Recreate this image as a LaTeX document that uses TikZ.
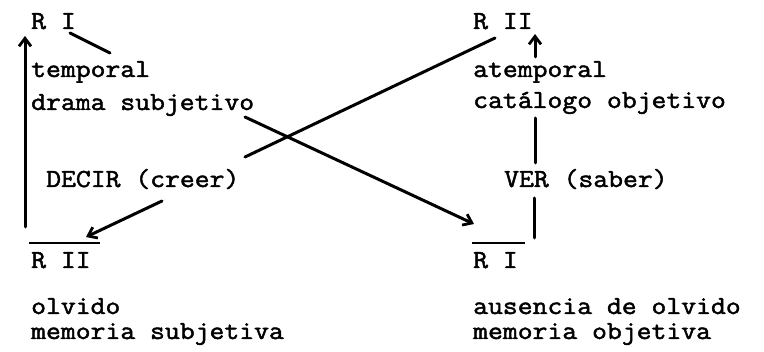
\documentclass[tikz,border=0pt]{standalone}
\usepackage{fontspec}
\setmonofont{Latin Modern Mono}[FakeStretch=1.11,FakeBold=1.8]
\usetikzlibrary{arrows.meta}
\begin{document}
\begin{tikzpicture}[x=1pt,y=-1pt,
  txt/.style={anchor=base west,inner sep=0pt,font=\ttfamily\fontsize{26}{30}\selectfont},
  conn/.style={line width=3pt,line cap=round},
  arr/.style={conn,-{Straight Barb[length=8pt,width=12pt,line width=2.8pt]}},
  bar/.style={line width=1.7pt}]
\useasboundingbox (0,0) rectangle (764,352);
% left column
\node[txt] (rIa)   at (31,29)  {R I};
\node[txt] (tmp)   at (31,77)  {temporal};
\node[txt] (drama) at (31,110) {drama subjetivo};
\node[txt] (decir) at (46,187) {DECIR (creer)};
\node[txt] (rIIb)  at (31,268) {R II};
\node[txt] (olv)   at (31,314) {olvido};
\node[txt] (memS)  at (31,339) {memoria subjetiva};
% right column
\node[txt] (rIIa)  at (473,29)  {R II};
\node[txt] (atmp)  at (473,77)  {atemporal};
\node[txt] (cat)   at (473,108) {catálogo objetivo};
\node[txt] (ver)   at (504,187) {VER (saber)};
\node[txt] (rIb)   at (473,268) {R I};
\node[txt] (aus)   at (473,314) {ausencia de olvido};
\node[txt] (memO)  at (473,339) {memoria objetiva};
% connector end points
\coordinate (l1) at (70,33);   \coordinate (l2) at (110,53);
\coordinate (la) at (25,227);  \coordinate (lb) at (25,36);
\coordinate (d1) at (162,201); \coordinate (d2) at (86,237);
\coordinate (x1) at (245,117); \coordinate (x2) at (474,224);
\coordinate (y1) at (245,157); \coordinate (y2) at (495,38);
\coordinate (u1) at (535,57);  \coordinate (u2) at (535,34);
\coordinate (v1) at (535,118); \coordinate (v2) at (535,163);
\coordinate (w1) at (534,198); \coordinate (w2) at (534,238);
\coordinate (o1) at (29,243);  \coordinate (o2) at (100,243);
\coordinate (p1) at (472,243); \coordinate (p2) at (525,243);
% connectors
\draw[conn] (l1) -- (l2);
\draw[arr]  (la) -- (lb);
\draw[arr]  (d1) -- (d2);
\draw[arr]  (x1) -- (x2);
\draw[conn] (y1) -- (y2);
\draw[arr]  (u1) -- (u2);
\draw[conn] (v1) -- (v2);
\draw[conn] (w1) -- (w2);
\draw[bar]  (o1) -- (o2);
\draw[bar]  (p1) -- (p2);
\end{tikzpicture}
\end{document}
